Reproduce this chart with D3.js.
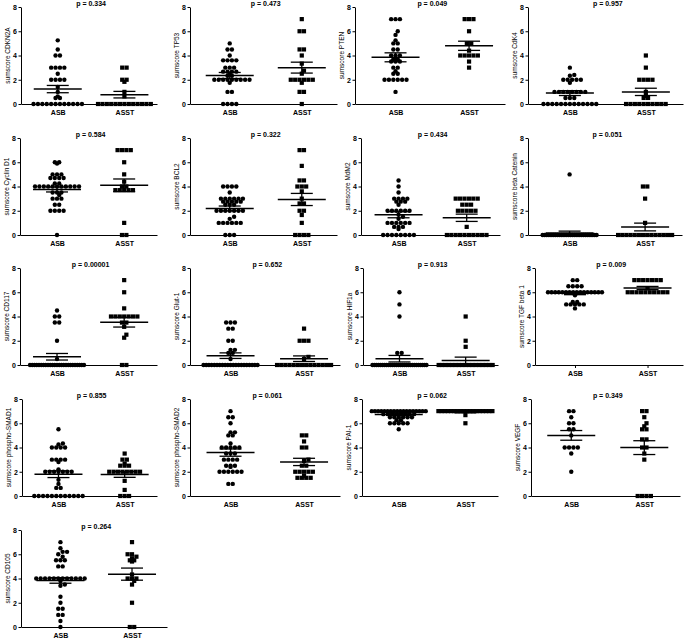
<!DOCTYPE html>
<html>
<head>
<meta charset="utf-8">
<script src="https://cdn.jsdelivr.net/npm/d3@7"></script>
<style>
  body { margin: 0; background: #fff; }
  svg { display: block; }
  text { font-family: "Liberation Sans", Arial, sans-serif; }
</style>
</head>
<body>
<div id="chart"></div>
<script>
// --- data ---
const groups = ['ASB', 'ASST'];
const yTicks = [0, 2, 4, 6, 8];

const markers = ['CDKN2A', 'TP53', 'PTEN', 'CdK4',
  'Cyclin D1', 'BCL2', 'MdM2', 'beta Catenin',
  'CD117', 'Glut-1', 'HIF1a', 'TGF beta 1',
  'phospho-SMAD1', 'phospho-SMAD2', 'PAI-1', 'VEGF',
  'CD105'];

const pValues = ['0.334', '0.473', '0.049', '0.957',
  '0.584', '0.322', '0.434', '0.051',
  '0.00001', '0.652', '0.913', '0.009',
  '0.855', '0.061', '0.062', '0.349',
  '0.264'];

const asbValues = [
  [5.25, 4.5, 4, 4, 3, 3, 3, 3, 2.5, 2, 2, 2, 2, 1.4, 1, 0.63, 0.5, 0.5, 0, 0, 0, 0, 0, 0, 0, 0, 0, 0, 0, 0],
  [5, 4.5, 4.5, 4, 3.6, 3.6, 3.6, 3.6, 3, 3, 3, 2.67, 2.67, 2.67, 2.67, 2.5, 2.33, 2.33, 2, 2, 2, 2, 2, 2, 2, 2, 2, 1.75, 1, 1, 0, 0, 0, 0],
  [7, 7, 7, 6, 5.7, 5.25, 5, 5, 4.5, 4.5, 4, 4, 4, 3.7, 3.7, 3.5, 3.5, 3.5, 3, 3, 2.7, 2.5, 2.5, 2, 2, 2, 2, 2, 2, 1],
  [3, 2.4, 2.33, 2, 2, 2, 2, 2, 1.75, 1, 1, 1, 1, 1, 1, 1, 1, 0.5, 0.5, 0.5, 0, 0, 0, 0, 0, 0, 0, 0, 0, 0, 0, 0, 0],
  [6, 6, 5.9, 5, 5, 5, 4.7, 4.7, 4.7, 4.7, 4.25, 4.25, 4, 4, 4, 4, 4, 4, 4, 4, 4, 4, 4, 3.5, 3.5, 3.5, 3.3, 3, 3, 3, 2.5, 2.5, 2, 2, 2, 2, 0],
  [4, 4, 4, 4, 3.5, 3, 3, 3, 3, 3, 3, 2.75, 2.75, 2.75, 2.75, 2.75, 2.5, 2.5, 2.5, 2, 2, 2, 2, 2, 2, 2, 1.5, 1.33, 1, 1, 1, 1, 1, 1, 0, 0, 0],
  [4.5, 4, 3.5, 3, 3, 3, 3, 2.75, 2.75, 2.75, 2.5, 2, 2, 2, 2, 2, 2, 1.67, 1.5, 1.33, 1, 1, 1, 1, 1, 1, 0.67, 0.67, 0.67, 0.5, 0, 0, 0, 0, 0, 0, 0, 0],
  [5, 0, 0, 0, 0, 0, 0, 0, 0, 0, 0, 0, 0, 0, 0, 0, 0, 0, 0, 0, 0, 0, 0, 0, 0, 0, 0, 0, 0, 0, 0],
  [4.5, 4, 4, 3.5, 3.5, 2, 0.5, 0, 0, 0, 0, 0, 0, 0, 0, 0, 0, 0, 0, 0, 0, 0, 0, 0, 0, 0, 0, 0, 0, 0, 0, 0],
  [3.5, 3.5, 3.5, 3, 3, 2, 2, 1.25, 1.25, 1, 1, 0.5, 0, 0, 0, 0, 0, 0, 0, 0, 0, 0, 0, 0, 0, 0, 0, 0, 0, 0, 0, 0, 0],
  [6, 5, 4, 1, 1, 0, 0, 0, 0, 0, 0, 0, 0, 0, 0, 0, 0, 0, 0, 0, 0, 0, 0, 0, 0, 0, 0, 0, 0, 0, 0, 0, 0],
  [7, 7, 6.5, 6.5, 6.5, 6.5, 6, 6, 6, 6, 6, 6, 6, 6, 6, 6, 6, 6, 6, 6, 6, 6, 5.75, 5.2, 5.2, 5, 5, 5, 5, 5, 4.67],
  [5.5, 4.33, 4.25, 4, 4, 4, 4, 3, 3, 3, 3, 2.8, 2.2, 2, 2, 2, 2, 2, 2, 2, 1.33, 1, 0.67, 0.67, 0, 0, 0, 0, 0, 0, 0, 0, 0, 0, 0, 0],
  [7, 6.5, 6.5, 6, 5.25, 5.25, 5, 5, 4.33, 4, 4, 4, 4, 4, 3.5, 3.5, 3.5, 3, 3, 3, 3, 2.5, 2.5, 2.5, 2.4, 2, 2, 2, 2, 2, 2, 1, 1],
  [7, 7, 7, 7, 7, 7, 7, 7, 7, 7, 7, 7, 7, 7, 7, 7, 7, 7, 6.75, 6.75, 6.75, 6.75, 6.75, 6.75, 6.75, 6.75, 6.5, 6.5, 6.5, 6.5, 6.5, 6.5, 6.25, 6.25, 6, 6, 6, 6, 6, 5.5],
  [7, 7, 6.5, 6, 6, 5.5, 5.5, 5, 4, 4, 4, 4, 3.5, 2],
  [7, 6.5, 6.2, 6.2, 6, 5.8, 5.5, 5.5, 5.5, 5, 5, 4, 4, 4, 4, 4, 4, 4, 4, 4, 4, 4, 4, 3.8, 3.5, 3.4, 2.5, 2, 1.5, 1.5, 1, 1, 0.5, 0]
];

const asstValues = [
  [3, 3, 2, 2, 1.83, 1, 0.63, 0, 0, 0, 0, 0, 0, 0, 0, 0, 0, 0, 0, 0],
  [7, 6, 6, 4.5, 4.5, 4, 3.33, 2.75, 2.5, 2, 2, 2, 2, 2, 2, 1.75, 1, 1, 0],
  [7, 7, 7, 6, 5, 5, 4.4, 4, 4, 4, 4, 4, 3.5, 3],
  [4, 3, 2, 2, 2, 2, 1, 0.67, 0.5, 0.5, 0, 0, 0, 0, 0, 0, 0, 0, 0, 0],
  [7, 7, 7, 7, 6, 5, 4.4, 4, 4, 3.7, 3.7, 3.7, 3.7, 3.7, 1, 0, 0],
  [7, 7, 5.7, 4.5, 4.5, 4, 4, 4, 3.6, 3, 2.6, 2.6, 2, 2, 1.65, 1, 0, 0, 0, 0],
  [3, 3, 3, 3, 3, 3, 2.5, 2.5, 2.5, 2, 2, 2, 2, 2, 0.67, 0, 0, 0, 0, 0, 0, 0, 0, 0, 0],
  [4, 4, 3, 1, 0, 0, 0, 0, 0, 0, 0, 0, 0, 0, 0, 0, 0, 0],
  [7, 6, 4.67, 4, 4, 4, 4, 4, 4, 4, 3.5, 3.5, 3.15, 2.5, 2.25, 0, 0],
  [3, 2, 2, 2, 0.67, 0.5, 0, 0, 0, 0, 0, 0, 0, 0, 0, 0, 0, 0, 0, 0],
  [4, 2, 1.5, 0, 0, 0, 0, 0, 0, 0, 0, 0, 0, 0, 0, 0, 0, 0, 0, 0],
  [7, 7, 7, 7, 7, 7, 7, 6.33, 6, 6, 6, 6, 6, 6, 6, 6, 6, 6],
  [3.5, 3, 3, 2.67, 2.5, 2.5, 2.5, 2, 2, 2, 2, 2, 2, 2, 2, 1.25, 0.5, 0, 0, 0],
  [5, 5, 4.5, 4, 4, 3, 2.9, 2.5, 2.5, 2, 2, 2, 2, 2, 1.67, 1.5, 1.5, 1.5, 1.5],
  [7, 7, 7, 7, 7, 7, 7, 7, 7, 7, 7, 7, 7, 7, 7, 7, 7, 7, 6.67, 6],
  [7, 7, 6.5, 6, 5.75, 5.5, 5.5, 4.67, 4.67, 4, 4, 3.5, 3, 0, 0, 0, 0],
  [7, 6, 6, 5.8, 5.67, 5.5, 5.5, 5.4, 4.33, 4, 4, 4, 3.8, 3.5, 2, 0, 0]
];

// mean and SEM as drawn in the figure
const asbMean = [1.23, 2.35, 3.85, 0.9, 3.75, 2.19, 1.67, 0.16, 0.68, 0.77, 0.52, 5.92, 1.8, 3.58, 6.72, 5.0, 3.84];
const asbSem = [0.3, 0.25, 0.37, 0.2, 0.2, 0.2, 0.25, 0.16, 0.27, 0.23, 0.27, 0.12, 0.28, 0.3, 0.1, 0.4, 0.23];
const asstMean = [0.77, 3.0, 4.8, 1.0, 4.1, 2.93, 1.42, 0.66, 3.53, 0.52, 0.38, 6.35, 1.78, 2.81, 6.91, 3.99, 4.36];
const asstSem = [0.27, 0.45, 0.38, 0.3, 0.52, 0.5, 0.3, 0.32, 0.4, 0.23, 0.27, 0.13, 0.24, 0.3, 0.05, 0.57, 0.5];

// --- layout ---
const W = 685, H = 639;
const rowTop = [7, 138, 268, 399, 530];   // pixel y of value 8 per row
const plotH = 97;
const panelLeft = [21, 190, 355, 528, 20, 190, 361, 528, 20, 190, 363, 535, 22, 190, 362, 531, 21];
const panelWidth = [136, 147, 150, 155, 137, 147, 139, 154, 137, 150, 135, 148, 135, 150, 136, 149, 146];
const xTickPanels = [11];

const dotD = 4.4, maxSpan = 54;
const meanW = 48, semW = 22;

const svg = d3.select('#chart').append('svg')
  .attr('width', W)
  .attr('height', H);

// spread equal values sideways like a column scatter
function swarm(vals, cx, y) {
  const placed = [];
  d3.groups(vals, v => v).sort((a, b) => a[0] - b[0]).forEach(([v, arr]) => {
    const n = arr.length;
    const s = n > 1 ? Math.min(dotD, maxSpan / (n - 1)) : dotD;
    const py = y(v);
    const base = arr.map((_, i) => (i - (n - 1) / 2) * s);
    let best = 0;
    for (const sh of [0, s / 2, -s / 2, s, -s]) {
      const ok = base.every(o => placed.every(p => Math.hypot(p.x - (cx + o + sh), p.y - py) >= dotD * 0.85));
      if (ok) { best = sh; break; }
    }
    base.forEach(o => placed.push({v: v, x: cx + o + best, y: py}));
  });
  return placed;
}

markers.forEach((name, i) => {
  const row = Math.floor(i / 4);
  const top = rowTop[row];
  const x0 = panelLeft[i], w = panelWidth[i];

  const y = d3.scaleLinear().domain([0, 8]).range([top + plotH, top]);
  const x = d3.scalePoint().domain(groups).range([x0, x0 + w]).padding(0.52).align(0.53);

  const g = svg.append('g');

  // y axis
  const ya = g.append('g')
    .attr('transform', 'translate(' + x0 + ',0)')
    .call(d3.axisLeft(y).tickValues(yTicks).tickSize(2.5).tickSizeOuter(0).tickPadding(1.5));
  ya.selectAll('text').attr('font-size', 7).attr('font-weight', 'bold')
    .attr('font-family', '"Liberation Sans", Arial, sans-serif');

  // x axis
  const hasTicks = xTickPanels.includes(i);
  const xa = g.append('g')
    .attr('transform', 'translate(0,' + (top + plotH) + ')')
    .call(d3.axisBottom(x).tickSize(hasTicks ? 3 : 0).tickSizeOuter(0).tickPadding(hasTicks ? 3 : 6));
  xa.selectAll('text').attr('font-size', 7).attr('font-weight', 'bold')
    .attr('font-family', '"Liberation Sans", Arial, sans-serif');
  g.selectAll('.domain, .tick line').attr('stroke', '#000').attr('stroke-width', 1);

  // y title
  g.append('text')
    .attr('transform', 'translate(' + (x0 - 13) + ',' + (top + plotH / 2) + ') rotate(-90)')
    .attr('text-anchor', 'middle')
    .attr('dy', '0.35em')
    .attr('font-size', 6.5)
    .text('sumscore ' + name);

  // p value
  g.append('text')
    .attr('x', (x('ASB') + x('ASST')) / 2)
    .attr('y', top - 1)
    .attr('text-anchor', 'middle')
    .attr('font-size', 7)
    .attr('font-weight', 'bold')
    .text('p = ' + pValues[i]);

  // points
  const asbPts = swarm(asbValues[i], x('ASB'), y);
  const asstPts = swarm(asstValues[i], x('ASST'), y);

  g.selectAll('circle.asb')
    .data(asbPts)
    .enter()
    .append('circle')
    .attr('cx', d => d.x)
    .attr('cy', d => d.y)
    .attr('r', 2.2)
    .attr('fill', '#000');

  g.selectAll('rect.asst')
    .data(asstPts)
    .enter()
    .append('rect')
    .attr('x', d => d.x - 2.1)
    .attr('y', d => d.y - 2.1)
    .attr('width', 4.2)
    .attr('height', 4.2)
    .attr('fill', '#000');

  // mean +/- SEM
  const stats = [
    {cx: x('ASB'), m: asbMean[i], s: asbSem[i]},
    {cx: x('ASST'), m: asstMean[i], s: asstSem[i]}
  ];
  stats.forEach(st => {
    const line = (x1, y1, x2, y2, sw) => g.append('line')
      .attr('x1', x1).attr('y1', y1).attr('x2', x2).attr('y2', y2)
      .attr('stroke', '#000').attr('stroke-width', sw);
    line(st.cx - meanW / 2, y(st.m), st.cx + meanW / 2, y(st.m), 1.5);
    line(st.cx, y(st.m + st.s), st.cx, y(st.m - st.s), 1.3);
    line(st.cx - semW / 2, y(st.m + st.s), st.cx + semW / 2, y(st.m + st.s), 1.3);
    line(st.cx - semW / 2, y(st.m - st.s), st.cx + semW / 2, y(st.m - st.s), 1.3);
  });
});
</script>
</body>
</html>
